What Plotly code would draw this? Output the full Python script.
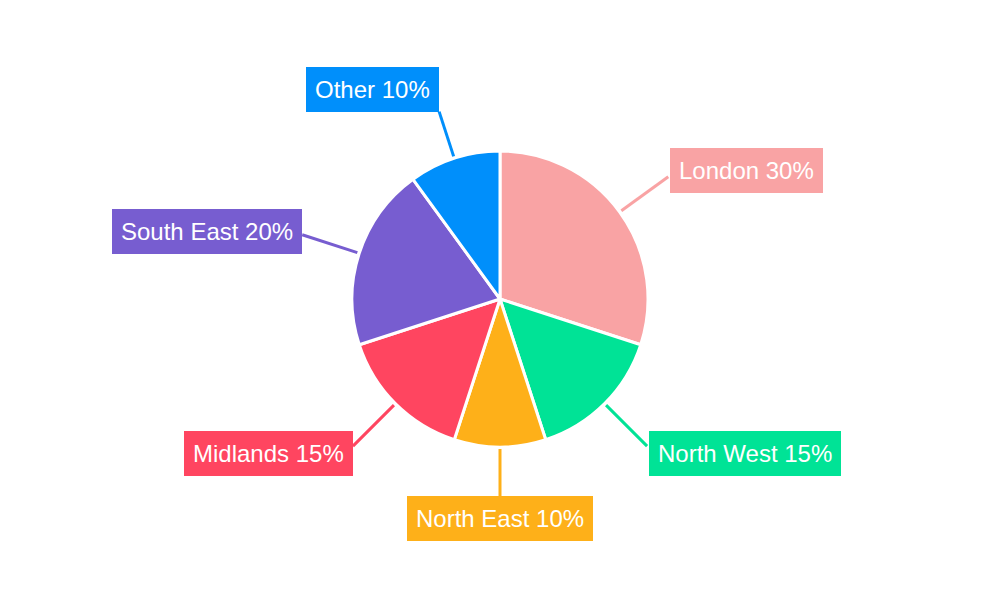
import math
import plotly.graph_objects as go

regions = ["London", "North West", "North East", "Midlands", "South East", "Other"]
shares = [30, 15, 10, 15, 20, 10]
colors = ["#F9A3A4", "#00E396", "#FEB019", "#FF4560", "#775DD0", "#008FFB"]

W, H = 1000, 600
OFF = 8  # page body margin
cx, cy, R = 500 - OFF, 299 - OFF, 148

fig = go.Figure(go.Pie(
    labels=regions, values=shares, sort=False, direction="clockwise", rotation=0,
    marker=dict(colors=colors, line=dict(color="white", width=3)),
    textinfo="none", hoverinfo="label+percent", showlegend=False,
    domain=dict(x=[(cx - R) / W, (cx + R) / W], y=[(H - cy - R) / H, (H - cy + R) / H]),
))

total = sum(shares)
cum = 0
shapes, annotations = [], []
for name, v, c in zip(regions, shares, colors):
    mid = (cum + v / 2) / total * 2 * math.pi
    cum += v
    s, co = math.sin(mid), math.cos(mid)
    side = abs(co) < 0.8
    r_in, r_out = R + 2, (R + 60) if side else (R + 49)
    x0, y0 = cx + s * r_in, cy - co * r_in
    x1, y1 = cx + s * r_out, cy - co * r_out
    shapes.append(dict(type="line", xref="paper", yref="paper",
                       x0=x0 / W, y0=1 - y0 / H, x1=x1 / W, y1=1 - y1 / H,
                       line=dict(color=c, width=3)))
    xa = "center" if abs(s) < 0.1 else ("left" if s > 0 else "right")
    ya = "middle" if side else ("bottom" if co > 0 else "top")
    annotations.append(dict(
        x=x1 / W, y=1 - y1 / H, xref="paper", yref="paper",
        xanchor=xa, yanchor=ya, showarrow=False,
        yshift=co * 11 if side else 0, xshift=2 if xa == "left" else 0,
        text=f"{name} {v}%", bgcolor=c, borderpad=9, borderwidth=0,
        font=dict(family="Liberation Sans, Arial, sans-serif", size=24, color="white"),
    ))

fig.update_layout(
    width=W, height=H, margin=dict(l=0, r=0, t=0, b=0),
    paper_bgcolor="white", plot_bgcolor="white",
    shapes=shapes, annotations=annotations,
)
fig.write_html("out.html")
